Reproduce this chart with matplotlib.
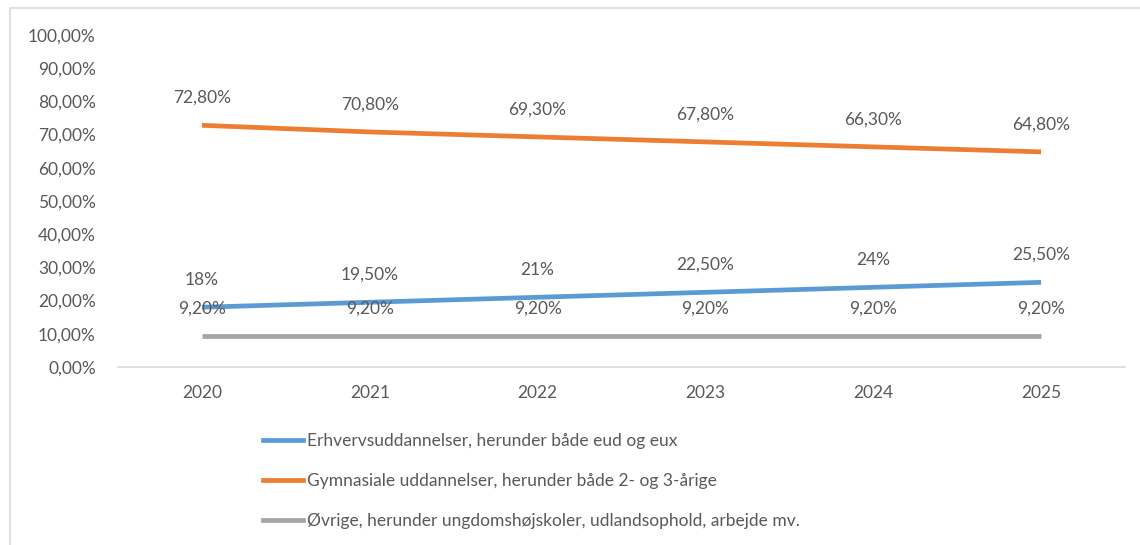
import matplotlib.pyplot as plt
from matplotlib.lines import Line2D
from matplotlib.patches import Rectangle

# data
years = ['2020', '2021', '2022', '2023', '2024', '2025']
erhverv = [18.0, 19.5, 21.0, 22.5, 24.0, 25.5]
gymnasie = [72.8, 70.8, 69.3, 67.8, 66.3, 64.8]
oevrige = [9.2, 9.2, 9.2, 9.2, 9.2, 9.2]
erhverv_labels = ['18%', '19,50%', '21%', '22,50%', '24%', '25,50%']
gymnasie_labels = ['72,80%', '70,80%', '69,30%', '67,80%', '66,30%', '64,80%']
oevrige_labels = ['9,20%'] * 6
names = ['Erhvervsuddannelser, herunder både eud og eux',
         'Gymnasiale uddannelser, herunder både 2- og 3-årige',
         'Øvrige, herunder ungdomshøjskoler, udlandsophold, arbejde mv.']
colors = ['#5b9bd5', '#ed7d31', '#a5a5a5']

plt.rcParams['font.family'] = ['Lato', 'DejaVu Sans']
txt = '#595959'

fig = plt.figure(figsize=(11.4, 5.45), dpi=100)
# chart border
fig.patches.append(Rectangle((10 / 1140, -0.1), 1.2, (537 / 545) + 0.1,
                             transform=fig.transFigure, fill=False,
                             edgecolor='#d9d9d9', lw=1.2))

ax = fig.add_axes([118 / 1140, 1 - 367 / 545, (1125 - 118) / 1140, 332 / 545])
x = list(range(len(years)))
series = [(erhverv, erhverv_labels), (gymnasie, gymnasie_labels), (oevrige, oevrige_labels)]
for (vals, labs), c in zip(series, colors):
    ax.plot(x, vals, color=c, lw=3.4, solid_capstyle='butt')
    for xi, v, lab in zip(x, vals, labs):
        ax.annotate(lab, (xi, v), xytext=(0, 14), textcoords='offset points',
                    ha='center', va='bottom', fontsize=12.5, color=txt)

ax.set_xlim(-0.5, 5.5)
ax.set_ylim(0, 100)
ax.set_yticks(range(0, 101, 10))
ax.set_yticklabels([f'{v},00%' for v in range(0, 101, 10)], fontsize=12.5, color=txt)
ax.set_xticks(x)
ax.set_xticklabels(years, fontsize=12.5, color=txt)
ax.tick_params(length=0)
ax.tick_params(axis='y', pad=16)
ax.tick_params(axis='x', pad=13)
for s in ['top', 'right', 'left']:
    ax.spines[s].set_visible(False)
ax.spines['bottom'].set_color('#d9d9d9')
ax.spines['bottom'].set_linewidth(1.2)

handles = [Line2D([], [], color=c, lw=3.4) for c in colors]
fig.legend(handles, names, loc='upper left', bbox_to_anchor=(247 / 1140, 1 - 417 / 545),
           frameon=False, fontsize=12.5, labelcolor=txt, handlelength=2.3,
           handletextpad=0.25, labelspacing=1.4)

fig.savefig('out.png', dpi=100)
